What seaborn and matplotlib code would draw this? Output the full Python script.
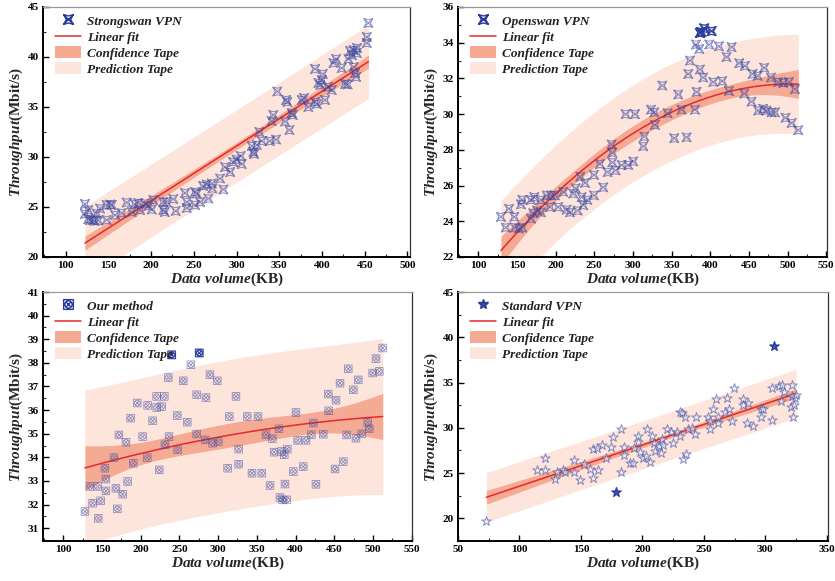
import numpy as np
import pandas as pd
import matplotlib
matplotlib.use("Agg")
import matplotlib.pyplot as plt
import seaborn as sns
from matplotlib.path import Path
from matplotlib.lines import Line2D
from matplotlib.patches import Patch
from matplotlib.ticker import MultipleLocator

# ---------------- data ----------------
# Panel 1: Strongswan VPN
sw_x = [122.6, 122.6, 126.5, 126.5, 128.5, 132, 134, 136.3, 138, 140.2, 148, 148, 152, 154,
        157.8, 165.6, 171.4, 177.3, 181, 185, 187, 192.9, 196.8, 200.7, 202.6, 214.3, 216,
        214.3, 218, 226, 228.8, 239.7, 241.7, 241.7, 251.4, 253.4, 251.4, 257.3, 261, 265,
        267, 271, 271.7, 280.7, 284.6, 286.6, 292.5, 296, 300, 304.9, 306, 317.8, 319.7,
        320.5, 323.6, 326.7, 329.5, 339, 341, 343, 346.2, 347.7, 356.8, 358, 359.5, 361.9,
        364.6, 365.8, 376.3, 379, 384, 391.9, 392, 394, 395.8, 398, 399.7, 400.9, 403.6,
        407, 411.4, 413.4, 416.5, 423, 427, 430, 431, 433, 435, 437, 437, 438.7, 440,
        440.7, 441, 452.4, 452.4, 454.3]
sw_y = [25.3, 24.3, 24.7, 23.8, 23.7, 23.7, 23.6, 24.35, 23.65, 24.85, 23.7, 25.2, 25.25, 25.2,
        24.2, 24.4, 25.45, 24.5, 25.3, 25.4, 24.7, 25.35, 25.1, 24.75, 25.7, 24.7, 24.5,
        25.5, 25.5, 25.8, 24.6, 26.4, 25.5, 24.9, 26.5, 26.35, 25.2, 25.5, 27.1, 27.25,
        25.85, 27.35, 26.85, 27.85, 26.75, 29.0, 28.5, 29.5, 29.75, 30.1, 29.3, 31.1, 30.5,
        30.3, 31.2, 32.5, 31.6, 31.6, 33.6, 34.2, 31.75, 36.55, 33.55, 35.7, 35.5, 32.7,
        34.4, 34.2, 35.7, 35.9, 35.0, 38.8, 35.5, 35.3, 37.4, 37.2, 37.7, 38.3, 35.7,
        37.0, 36.7, 39.4, 39.8, 38.9, 37.3, 37.25, 39.8, 40.6, 40.2, 40.7, 39.0, 38.4, 38.0,
        40.4, 40.9, 42.0, 41.4, 43.4]

# Panel 2: Openswan VPN
os_x = [129.3, 135.3, 139.7, 146.6, 147.4, 152.6, 155.2, 156.9, 156.9, 168.1, 172.4, 168.1,
        171.1, 176, 181, 181, 188.4, 192.7, 194, 199, 203.4, 209.9, 214.2, 218.5, 222.8,
        225.9, 228.4, 231.9, 233.6, 235.8, 237.9, 240.9, 249.6, 249.6, 257.3, 261.6, 267.2,
        273.3, 273.3, 272.4, 277.6, 285.3, 294, 300.4, 290.5, 302.6, 314.7, 313.4, 323.3,
        327.6, 328.4, 338, 344.8, 353.4, 358.6, 362.9, 369.4, 371.6, 373.7, 380.2, 382.3,
        381.5, 385.8, 386.6, 390.9, 398.7, 403.9, 411.2, 415.5, 421.1, 424.1, 427.6, 437.5,
        444.8, 444, 453.4, 454.7, 461.2, 462, 468.5, 469.8, 472.8, 478.4, 479.3, 483.6, 487.9,
        494.4, 497.4, 501.7, 505.2, 509.5, 513.8]
os_y = [24.25, 23.65, 24.7, 24.25, 23.65, 23.6, 24.95, 25.2, 23.65, 25.2, 25.35, 24.15,
        24.45, 24.6, 25.2, 24.5, 25.45, 24.8, 25.45, 25.45, 24.8, 25.65, 24.65, 24.5, 25.55,
        25.85, 24.6, 26.5, 25.35, 24.9, 26.15, 25.2, 26.6, 25.45, 27.2, 25.9, 26.75,
        27.85, 27.3, 28.3, 26.85, 27.15, 27.15, 27.35, 30.0, 30.0, 28.75, 28.2, 30.25,
        30.1, 29.4, 31.6, 30.05, 28.65, 31.1, 30.25, 28.7, 32.25, 33.0, 30.25, 31.25,
        33.9, 33.65, 32.5, 32.05, 33.9, 31.8, 33.8, 31.85, 33.2, 31.3, 33.75, 32.85,
        32.7, 31.15, 30.7, 32.25, 32.15, 30.2, 30.3, 32.6, 30.2, 32.05, 30.1, 30.1, 31.8,
        31.75, 29.8, 31.8, 29.5, 31.4, 29.1]
os_hx = [386.6, 388.5, 392.2, 401.7]
os_hy = [34.55, 34.6, 34.8, 34.65]

# Panel 3: Our method
om_x = [128, 134.5, 137.9, 144.4, 145.2, 148.2, 153.8, 155.1, 155.1, 165.5, 168, 169.8, 171.9,
        176.7, 181, 183.1, 187, 190.4, 195.6, 202.5, 208.5, 209, 215.4, 220.6, 220.6, 224,
        227, 230.5, 231.4, 235.7, 236.6, 247.3, 247.7, 255, 260.2, 264.9, 272.3, 272.3,
        283.5, 284.3, 289.5, 292.9, 299, 300.3, 312.3, 314.5, 323.1, 326.5, 326.5, 337.7,
        343.8, 351.5, 356.3, 361.9, 367.1, 370.1, 372.3, 378.6, 379.9, 382.1, 383.4, 385.5,
        386.4, 388.5, 389.4, 397.2, 400.6, 402.8, 410, 413.5, 420.4, 423, 426.4, 435.9,
        442.4, 442.8, 451, 452.3, 457.5, 461.8, 466.1, 468.2, 474.7, 478.1, 481.1, 485.5,
        493.2, 495.3, 499.7, 504, 508.3, 512.6]
om_y = [31.71, 32.77, 32.06, 32.77, 31.42, 32.16, 33.54, 33.08, 32.58, 33.99, 32.69, 31.82,
        34.95, 32.44, 34.64, 32.98, 35.66, 33.75, 36.30, 34.88, 33.99, 36.2, 35.55, 36.58,
        36.11, 33.47, 36.15, 36.58, 34.53, 37.38, 34.88, 35.77, 34.32, 37.24, 35.49, 37.92,
        36.65, 34.99, 34.74, 36.53, 37.5, 34.6, 37.24, 34.67, 33.54, 35.73, 36.58, 34.35,
        33.71, 35.73, 33.33, 35.73, 33.33, 34.96, 32.81, 34.79, 34.22, 35.21, 32.3, 34.25,
        32.2, 34.11, 32.87, 32.2, 34.35, 33.4, 35.9, 34.72, 33.61, 34.72, 34.96, 35.45,
        32.86, 34.98, 36.68, 35.97, 33.51, 36.42, 37.14, 33.82, 34.95, 37.75, 36.86, 34.81,
        37.28, 35.0, 35.48, 35.21, 37.57, 38.18, 37.64, 38.63]
om_hx = [240.0, 275.7]
om_hy = [38.34, 38.42]

# Panel 4: Standard VPN
sv_x = [73.1, 114.6, 120.6, 121.1, 128.7, 130.9, 135.5, 136.9, 144.5, 144.5, 149.6, 152.6,
        157.2, 160, 160, 162.7, 163.5, 166.8, 170.8, 174.4, 176.5, 182.5, 182.5, 185.2,
        185.2, 189.8, 192.6, 193.4, 196.1, 196.6, 198, 200.7, 202.9, 204, 206.1, 208, 209.7,
        210.2, 213.5, 215.1, 215.6, 217, 219.7, 223.2, 225.1, 227.8, 230.6, 231.9, 230.6,
        233.3, 234.6, 235.2, 236.8, 240, 242.8, 243.6, 253.6, 255, 255, 257.7, 259.6, 261.2,
        261.8, 267.2, 268.6, 270.7, 272.6, 274.8, 281.6, 282.1, 285.7, 285.4, 290.3, 296.3,
        296.5, 298.4, 305.8, 305.8, 311.5, 312.6, 313.4, 315.3, 321, 321.5, 321.5, 323.4,
        322.9, 324.2, 325]
sv_y = [19.74, 25.35, 26.64, 25.35, 24.35, 25.16, 25.35, 25.16, 26.45, 25.1, 24.24, 26.0,
        25.46, 24.42, 27.63, 27.74, 25.35, 28.11, 26.71, 27.85, 29.03, 29.85, 25.16, 27.0,
        27.85, 26.08, 26.16, 27.74, 29.14, 28.48, 27.37, 26.64, 26.9, 29.89, 26.27, 29.14,
        28.3, 27.48, 28.0, 27.19, 28.78, 28.11, 29.89, 29.59, 28.3, 29.59, 31.8, 31.62,
        29.14, 26.56, 31.14, 27.12, 29.85, 29.96, 29.33, 31.14, 31.14, 30.7, 29.85, 32.06,
        33.16, 30.51, 31.14, 31.8, 33.27, 32.09, 30.7, 34.38, 33.2, 32.54, 32.72, 30.51,
        30.21, 32.09, 31.25, 32.09, 34.38, 30.88, 34.57, 32.91, 34.68, 33.94, 32.35, 34.68,
        33.46, 32.54, 31.25, 33.27, 33.64]
sv_hx = [178.2, 307.4]
sv_hy = [22.95, 39.06]

series_names = ["Strongswan VPN", "Openswan VPN", "Our method", "Standard VPN"]
legend_labels = ["Linear fit", "Confidence Tape", "Prediction Tape"]
x_label = r"$\it{Data\ volume}$(KB)"
y_label = r"$\it{Throughput}$(Mbit/s)"

# ---------------- style ----------------
sns.set_theme(style="white")
plt.rcParams["font.family"] = ["Liberation Serif", "DejaVu Serif"]
plt.rcParams["font.weight"] = "bold"
plt.rcParams["mathtext.fontset"] = "custom"
plt.rcParams["mathtext.it"] = "Liberation Serif:italic:bold"
plt.rcParams["mathtext.rm"] = "Liberation Serif:bold"
plt.rcParams["mathtext.bf"] = "Liberation Serif:bold"

PT_EDGE = "#3a46a0"
LINE_C = "#e8282a"
CONF_C = "#f5aa93"
PRED_C = "#fde5dc"

# custom markers
def bowtie_x():
    verts = [(-1, -1), (0, -0.72), (1, -1), (0.45, 0), (1, 1), (0, 0.72), (-1, 1), (-0.45, 0), (-1, -1),
             (-1, -1), (1, 1), (-1, 1), (1, -1)]
    codes = [Path.MOVETO] + [Path.LINETO] * 7 + [Path.CLOSEPOLY] + \
            [Path.MOVETO, Path.LINETO, Path.MOVETO, Path.LINETO]
    return Path(verts, codes)

def box_circle_x():
    sq = Path([(-1, -1), (1, -1), (1, 1), (-1, 1), (-1, -1)],
              [Path.MOVETO, Path.LINETO, Path.LINETO, Path.LINETO, Path.CLOSEPOLY])
    circ = Path.circle((0, 0), 0.75)
    xl = Path([(-0.53, -0.53), (0.53, 0.53), (-0.53, 0.53), (0.53, -0.53)],
              [Path.MOVETO, Path.LINETO, Path.MOVETO, Path.LINETO])
    return Path.make_compound_path(sq, circ, xl)

M_BOW = bowtie_x()
M_BOX = box_circle_x()


def fit_bands(x, y, deg, n_grid=200):
    x = np.asarray(x, float); y = np.asarray(y, float)
    xm = x.mean()
    X = np.vander(x - xm, deg + 1)
    beta, *_ = np.linalg.lstsq(X, y, rcond=None)
    resid = y - X @ beta
    n, p = len(x), deg + 1
    s2 = resid @ resid / (n - p)
    XtXi = np.linalg.inv(X.T @ X)
    xs = np.linspace(x.min(), x.max(), n_grid)
    Xs = np.vander(xs - xm, deg + 1)
    fit = Xs @ beta
    lev = np.einsum("ij,jk,ik->i", Xs, XtXi, Xs)
    t = 1.98
    conf = t * np.sqrt(s2 * lev)
    pred = t * np.sqrt(s2 * (1 + lev))
    return xs, fit, conf, pred


W, H = 835, 581
fig = plt.figure(figsize=(W / 100, H / 100), dpi=100)

panels = [
    dict(rect=(43, 7, 410, 257), x=sw_x, y=sw_y, hx=[], hy=[], deg=1, marker=M_BOW, ms=42, lw=0.7,
         xlim=(73.5, 503), ylim=(20, 45), xmaj=50, ymaj=5, fill="none"),
    dict(rect=(458, 7, 827, 257), x=os_x, y=os_y, hx=os_hx, hy=os_hy, deg=2, marker=M_BOW, ms=42, lw=0.7,
         xlim=(73.7, 551), ylim=(22, 36), xmaj=50, ymaj=2, fill="none"),
    dict(rect=(43, 292, 412, 541), x=om_x, y=om_y, hx=om_hx, hy=om_hy, deg=2, marker=M_BOX, ms=30, lw=0.55,
         xlim=(73.8, 550.5), ylim=(30.46, 41), xmaj=50, ymaj=1, fill="none"),
    dict(rect=(458, 292, 828, 541), x=sv_x, y=sv_y, hx=sv_hx, hy=sv_hy, deg=1, marker="*", ms=50, lw=0.7,
         xlim=(50, 351), ylim=(17.5, 45), xmaj=50, ymaj=5, fill="#e6e8f6"),
]

for name, P in zip(series_names, panels):
    l, t, r, b = P["rect"]
    ax = fig.add_axes([l / W, 1 - b / H, (r - l) / W, (b - t) / H])
    xs, fit, conf, pred = fit_bands(P["x"], P["y"], P["deg"])
    ax.fill_between(xs, fit - pred, fit + pred, color=PRED_C, lw=0, zorder=1)
    ax.fill_between(xs, fit - conf, fit + conf, color=CONF_C, lw=0, zorder=2)
    ax.plot(xs, fit, color=LINE_C, lw=1.1, zorder=3)

    df = pd.DataFrame({"x": P["x"], "y": P["y"]})
    sns.scatterplot(data=df, x="x", y="y", ax=ax, marker=P["marker"], s=P["ms"],
                    facecolor=P["fill"], edgecolor=PT_EDGE, linewidth=P["lw"], alpha=0.6,
                    zorder=4, legend=False)
    if len(P["hx"]):
        dh = pd.DataFrame({"x": P["hx"], "y": P["hy"]})
        sns.scatterplot(data=dh, x="x", y="y", ax=ax, marker=P["marker"], s=P["ms"],
                        facecolor=PT_EDGE if P["marker"] == "*" else "none",
                        edgecolor="#2a3a9a", linewidth=0.9, alpha=0.95, zorder=5, legend=False)

    ax.set_xlim(*P["xlim"]); ax.set_ylim(*P["ylim"])
    ax.xaxis.set_major_locator(MultipleLocator(P["xmaj"]))
    ax.xaxis.set_minor_locator(MultipleLocator(P["xmaj"] / 2))
    ax.yaxis.set_major_locator(MultipleLocator(P["ymaj"]))
    ax.yaxis.set_minor_locator(MultipleLocator(P["ymaj"] / 2))
    ax.tick_params(axis="both", which="major", direction="in", length=4, width=1,
                   labelsize=8, pad=3, bottom=True, left=True, top=False, right=False,
                   colors="black")
    ax.tick_params(axis="both", which="minor", direction="in", length=2.5, width=0.8,
                   bottom=True, left=True, top=False, right=False)
    for lab in ax.get_xticklabels() + ax.get_yticklabels():
        lab.set_fontweight("bold")
    for s in ("left", "bottom"):
        ax.spines[s].set_color("black"); ax.spines[s].set_linewidth(1.4)
    ax.spines["right"].set_color("#333333"); ax.spines["right"].set_linewidth(0.9)
    ax.spines["top"].set_color("#999999"); ax.spines["top"].set_linewidth(0.9)

    ax.set_xlabel(x_label, fontsize=11, fontweight="bold", labelpad=0)
    ax.set_ylabel(y_label, fontsize=11, fontweight="bold", labelpad=2)

    handles = [
        Line2D([], [], ls="none", marker=P["marker"], markersize=7,
               markerfacecolor=PT_EDGE if P["marker"] == "*" else "none",
               markeredgecolor="#2a3a9a", markeredgewidth=1.0),
        Line2D([], [], color=LINE_C, lw=1.1),
        Patch(facecolor=CONF_C, edgecolor="none"),
        Patch(facecolor=PRED_C, edgecolor="none"),
    ]
    leg = ax.legend(handles, [name] + legend_labels, loc="upper left",
                    bbox_to_anchor=(0.012, 1.0), frameon=False,
                    prop={"family": "Liberation Serif", "weight": "bold", "style": "italic", "size": 9.5},
                    handlelength=2.0, handleheight=1.0, labelspacing=0.2, handletextpad=0.45,
                    borderaxespad=0.2, borderpad=0.35)
    for txt in leg.get_texts():
        txt.set_color("#222222")

fig.savefig("out.png", dpi=100)
